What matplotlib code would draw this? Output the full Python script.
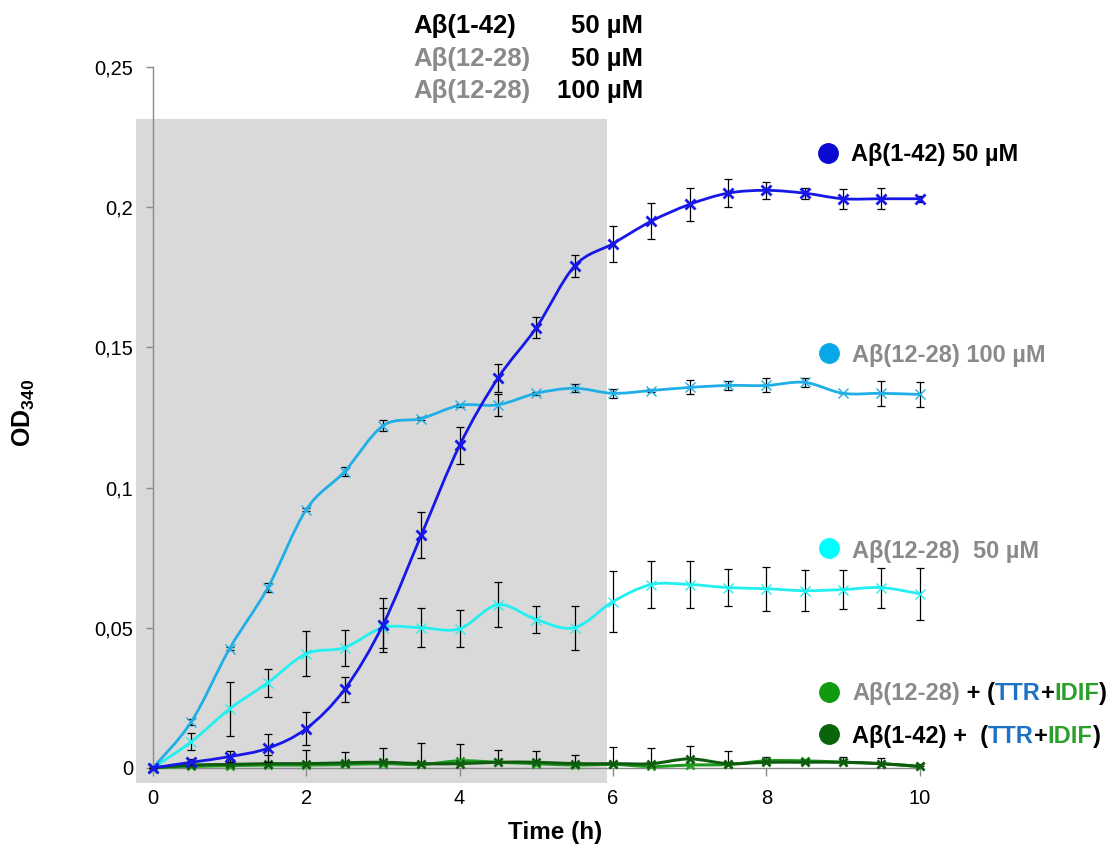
import numpy as np
import matplotlib
matplotlib.use("Agg")
import matplotlib.pyplot as plt
from matplotlib.path import Path
from matplotlib.patches import PathPatch, Rectangle
from matplotlib.lines import Line2D
from matplotlib.ticker import FuncFormatter

plt.rcParams['font.family'] = ['Liberation Sans', 'DejaVu Sans']
plt.rcParams['mathtext.fontset'] = 'custom'
plt.rcParams['mathtext.rm'] = 'Liberation Sans'
plt.rcParams['mathtext.bf'] = 'Liberation Sans:bold'

# --- data ---
time = [0, 0.5, 1, 1.5, 2, 2.5, 3, 3.5, 4, 4.5, 5, 5.5, 6, 6.5, 7, 7.5, 8, 8.5, 9, 9.5, 10]

ab42 = [0, 0.002, 0.004, 0.007, 0.014, 0.028, 0.051, 0.083, 0.115, 0.139, 0.157,
        0.179, 0.187, 0.195, 0.201, 0.205, 0.206, 0.205, 0.203, 0.203, 0.203]
ab42_err = [0, 0.001, 0.002, 0.005, 0.006, 0.0045, 0.0097, 0.0083, 0.0066, 0.005, 0.0037,
            0.004, 0.0064, 0.0065, 0.006, 0.005, 0.003, 0.002, 0.0035, 0.0037, 0.001]

ab1228_100 = [0, 0.0164, 0.0425, 0.0643, 0.0921, 0.1057, 0.122, 0.1246, 0.1293, 0.1295, 0.1336,
              0.1354, 0.1336, 0.1346, 0.1357, 0.1364, 0.1364, 0.1375, 0.1336, 0.1336, 0.1332]
ab1228_100_err = [0, 0.001, 0.0005, 0.0015, 0.0005, 0.0015, 0.002, 0.0005, 0.0005, 0.004, 0.0005,
                  0.0015, 0.0015, 0.0005, 0.0025, 0.0015, 0.0025, 0.0015, 0.0, 0.0045, 0.0045]

ab1228_50 = [0, 0.0093, 0.021, 0.0304, 0.0407, 0.0429, 0.05, 0.05, 0.0496, 0.0582, 0.0529,
             0.05, 0.0593, 0.0654, 0.0654, 0.0643, 0.0639, 0.0632, 0.0636, 0.0643, 0.0621]
ab1228_50_err = [0, 0.003, 0.0095, 0.005, 0.008, 0.0064, 0.0072, 0.007, 0.0066, 0.008, 0.0048,
                 0.0078, 0.011, 0.0084, 0.0084, 0.0065, 0.0078, 0.0073, 0.007, 0.0071, 0.0092]

ab1228_ttr = [0, 0.0005, 0.0008, 0.001, 0.001, 0.0012, 0.0015, 0.0012, 0.0025, 0.002, 0.0015,
              0.001, 0.0012, 0.0005, 0.001, 0.0012, 0.0025, 0.0025, 0.002, 0.0015, 0.0005]

ab42_ttr = [0, 0.001, 0.0012, 0.0015, 0.0015, 0.0018, 0.002, 0.0015, 0.0015, 0.002, 0.002,
            0.0015, 0.0015, 0.0015, 0.0032, 0.0015, 0.002, 0.002, 0.002, 0.0015, 0.0005]
ab42_ttr_err = [0, 0.0015, 0.002, 0.003, 0.005, 0.004, 0.005, 0.0075, 0.007, 0.0045, 0.004,
                0.003, 0.006, 0.0055, 0.0045, 0.0045, 0.002, 0.001, 0.002, 0.002, 0.001]

W, H = 1113, 849

BLUE = '#1717e8'
SKY = '#1fafe6'
CYAN = '#22f0f0'
GREEN = '#1f9a1f'
DKGREEN = '#0f5c0f'
GREY_TXT = '#8a8a8a'
TTR_BLUE = '#1c72c4'
IDIF_GREEN = '#2aa02a'


def smooth_path(xs, ys):
    # Excel-style smoothed line: Catmull-Rom segments drawn as cubic Beziers
    pts = np.column_stack([xs, ys]).astype(float)
    n = len(pts)
    verts = [pts[0]]
    codes = [Path.MOVETO]
    for i in range(n - 1):
        p0 = pts[i - 1] if i > 0 else pts[i]
        p1 = pts[i]
        p2 = pts[i + 1]
        p3 = pts[i + 2] if i + 2 < n else pts[i + 1]
        verts += [p1 + (p2 - p0) / 6.0, p2 - (p3 - p1) / 6.0, p2]
        codes += [Path.CURVE4] * 3
    return Path(verts, codes)


def series(ax, ys, color, lw, err=None, err_up_only=False, ms=7, mew=1.5, z=3):
    if err is not None:
        yerr = [np.zeros(len(err)), err] if err_up_only else err
        ax.errorbar(time, ys, yerr=yerr, fmt='none', ecolor='black', elinewidth=0.9,
                    capsize=3, capthick=0.9, zorder=z)
    ax.add_patch(PathPatch(smooth_path(time, ys), fill=False, edgecolor=color, lw=lw,
                           zorder=z + 0.5, capstyle='round'))
    ax.plot(time, ys, linestyle='none', marker='x', color=color, ms=ms, mew=mew, zorder=z + 0.6)


def fig_text(fig, x, y, s, **kw):
    return fig.text(x / W, 1 - y / H, s, **kw)


def rich_text(fig, x, y, parts, size=17):
    r = fig.canvas.get_renderer()
    for s, c in parts:
        t = fig_text(fig, x, y, s, color=c, fontsize=size, fontweight='bold',
                     ha='left', va='baseline')
        x += t.get_window_extent(renderer=r).width


def dot(fig, x, y, color):
    fig.add_artist(Line2D([x / W], [1 - y / H], marker='o', ms=14, color=color,
                          linestyle='none', transform=fig.transFigure))


fig = plt.figure(figsize=(W / 100, H / 100), dpi=100)
ax = fig.add_axes([136 / W, (H - 783) / H, 822 / W, (783 - 67) / H])
ax.set_xlim(-0.22, 10.5)
ax.set_ylim(-0.0054, 0.25)
ax.patch.set_alpha(0)

ax.add_patch(Rectangle((-0.22, -0.0054), 6.14, 0.2368, facecolor='#d9d9d9',
                       edgecolor='none', zorder=0))

series(ax, ab1228_ttr, GREEN, 2.2, ms=6, mew=1.8, z=3)
series(ax, ab42_ttr, DKGREEN, 2.2, err=ab42_ttr_err, err_up_only=True, ms=6, mew=1.8, z=3.1)
series(ax, ab1228_50, CYAN, 2.0, err=ab1228_50_err, ms=7, mew=1.0, z=4)
series(ax, ab1228_100, SKY, 2.0, err=ab1228_100_err, ms=7, mew=1.0, z=5)
series(ax, ab42, BLUE, 2.0, err=ab42_err, ms=7, mew=2.0, z=6)

for side in ('top', 'right'):
    ax.spines[side].set_visible(False)
ax.spines['left'].set_color('#8a8a8a')
ax.spines['left'].set_position(('data', 0))
ax.spines['left'].set_bounds(0, 0.25)
ax.spines['bottom'].set_color('#8a8a8a')
ax.spines['bottom'].set_position(('data', 0))
ax.spines['bottom'].set_bounds(0, 10)
for sp in ax.spines.values():
    sp.set_linewidth(1.0)
    sp.set_zorder(2)

ax.set_xticks([0, 2, 4, 6, 8, 10])
ax.set_yticks([0, 0.05, 0.1, 0.15, 0.2, 0.25])
ax.yaxis.set_major_formatter(FuncFormatter(lambda v, p: ('%g' % round(v, 3)).replace('.', ',')))
ax.tick_params(axis='y', direction='out', length=5, width=1, color='#8a8a8a', labelsize=14.5, pad=9)
ax.tick_params(axis='x', direction='out', length=6, width=1, color='#8a8a8a', labelsize=14.5, pad=9)

# axis titles
fig_text(fig, 24, 413, r'$\mathbf{OD}_{\mathbf{340}}$', fontsize=18, rotation=90,
         ha='center', va='center')
fig_text(fig, 555, 833, 'Time (h)', fontsize=17.5, fontweight='bold', ha='center', va='center')

# header block
rows = [('Aβ(1-42)', 'black', '50 µM', 33),
        ('Aβ(12-28)', GREY_TXT, '50 µM', 66),
        ('Aβ(12-28)', GREY_TXT, '100 µM', 98)]
for name, col, conc, yb in rows:
    fig_text(fig, 413, yb, name, color=col, fontsize=18.5, fontweight='bold', va='baseline')
    fig_text(fig, 643, yb, conc, color='black', fontsize=18.5, fontweight='bold',
             ha='right', va='baseline')

# right-hand labels
dot(fig, 828, 153, '#0a0ad0')
rich_text(fig, 851, 161, [('Aβ(1-42) 50 µM', 'black')])
dot(fig, 829, 353, '#0aa8e8')
rich_text(fig, 852, 362, [('Aβ(12-28) 100 µM', GREY_TXT)])
dot(fig, 829, 548, '#00ffff')
rich_text(fig, 852, 558, [('Aβ(12-28)  50 µM', GREY_TXT)])
dot(fig, 829, 692, '#109a10')
rich_text(fig, 852, 700, [('Aβ(12-28)', GREY_TXT), (' + (', 'black'), ('TTR', TTR_BLUE),
                          ('+', 'black'), ('IDIF', IDIF_GREEN), (')', 'black')])
dot(fig, 829, 734, '#0a640a')
rich_text(fig, 852, 743, [('Aβ(1-42) +  (', 'black'), ('TTR', TTR_BLUE),
                          ('+', 'black'), ('IDIF', IDIF_GREEN), (')', 'black')])

fig.savefig('out.png', dpi=100)
